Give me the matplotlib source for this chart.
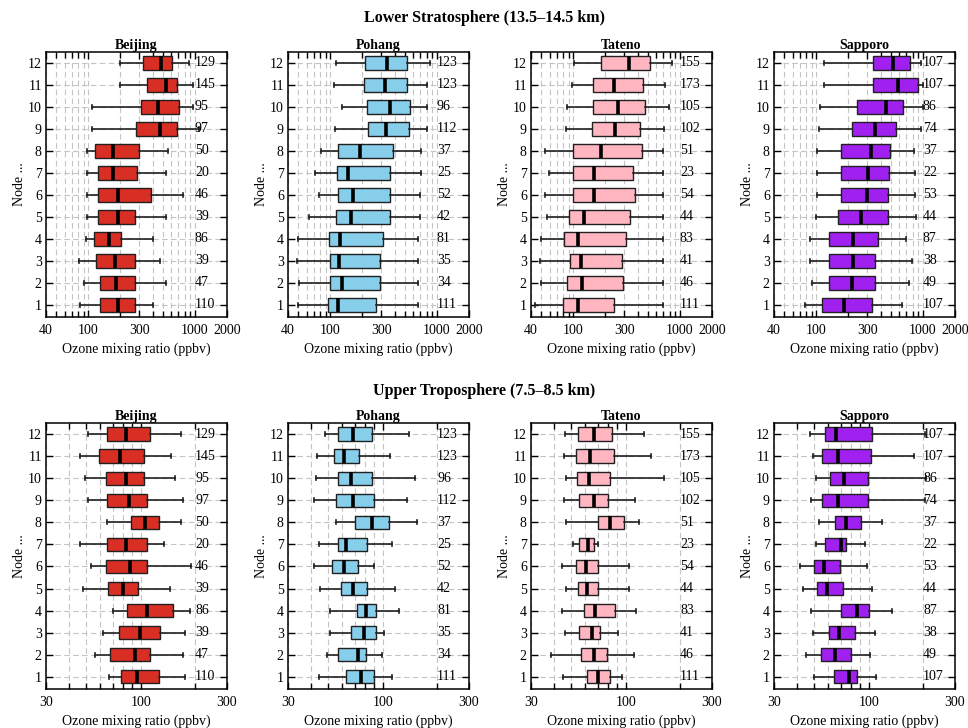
import matplotlib
matplotlib.use("Agg")
import matplotlib.pyplot as plt
from matplotlib.ticker import NullFormatter

plt.rcParams["font.family"] = ["Liberation Serif", "DejaVu Serif"]

stations = ["Beijing", "Pohang", "Tateno", "Sapporo"]
colors = ["#D92E24", "#87CEEB", "#FFB6C1", "#A020F0"]
nodes = list(range(1, 13))

# Number of profiles assigned to each node (node 1 .. 12)
counts_beijing = [110, 47, 39, 86, 39, 46, 20, 50, 97, 95, 145, 129]
counts_pohang = [111, 34, 35, 81, 42, 52, 25, 37, 112, 96, 123, 123]
counts_tateno = [111, 46, 41, 83, 44, 54, 23, 51, 102, 105, 173, 155]
counts_sapporo = [107, 49, 38, 87, 44, 53, 22, 37, 74, 86, 107, 107]

# Lower stratosphere (13.5-14.5 km): whisker low, Q1, median, Q3, whisker high per node
ls_beijing = {
    "lo":  [83, 90, 81, 94, 98, 98, 98, 98, 107, 107, 200, 198],
    "q1":  [128, 128, 118, 114, 122, 122, 122, 116, 280, 310, 355, 328],
    "med": [190, 183, 177, 155, 190, 190, 171, 171, 465, 450, 530, 481],
    "q3":  [272, 272, 272, 202, 274, 390, 286, 300, 674, 710, 674, 605],
    "hi":  [407, 530, 470, 400, 530, 780, 530, 560, 1100, 950, 966, 881],
}
ls_pohang = {
    "lo":  [50, 51, 49, 50, 63, 78, 71, 81, 111, 128, 108, 114],
    "q1":  [94, 100, 100, 96, 112, 118, 116, 118, 225, 219, 207, 210],
    "med": [117, 128, 120, 122, 157, 163, 146, 191, 333, 363, 328, 343],
    "q3":  [268, 290, 290, 314, 365, 365, 365, 387, 547, 564, 520, 527],
    "hi":  [665, 665, 665, 665, 690, 695, 705, 705, 807, 807, 813, 855],
}
ls_tateno = {
    "lo":  [44, 50, 49, 50, 56, 54, 59, 54, 85, 88, 96, 101],
    "q1":  [80, 88, 93, 81, 91, 100, 100, 100, 149, 154, 152, 180],
    "med": [110, 120, 118, 110, 127, 156, 156, 182, 246, 260, 240, 330],
    "q3":  [242, 290, 286, 310, 343, 382, 365, 441, 422, 474, 454, 524],
    "hi":  [690, 690, 690, 690, 690, 690, 690, 700, 714, 796, 725, 843],
}
ls_sapporo = {
    "lo":  [79, 90, 88, 88, 100, 101, 101, 101, 105, 108, 118, 118],
    "q1":  [114, 132, 132, 132, 160, 169, 169, 169, 214, 239, 338, 338],
    "med": [182, 218, 221, 221, 262, 297, 305, 328, 352, 454, 587, 520],
    "q3":  [330, 355, 355, 382, 474, 467, 477, 494, 555, 655, 899, 762],
    "hi":  [637, 746, 785, 694, 862, 843, 843, 826, 960, 1010, 1000, 950],
}

# Upper troposphere (7.5-8.5 km)
ut_beijing = {
    "lo":  [67, 56, 62, 70.5, 48, 53, 46.5, 65, 51, 49.5, 46.5, 51.5],
    "q1":  [78, 68, 76, 84, 66, 64, 65, 88, 65, 64, 59, 65.5],
    "med": [96, 93, 99, 108, 80, 87, 82.5, 106, 86, 83, 77, 82.5],
    "q3":  [126, 113, 128, 150, 97, 109, 109, 127, 108, 105, 104, 112],
    "hi":  [175, 172, 175, 187, 146, 189, 135, 168, 172, 155, 147, 168],
}
ut_pohang = {
    "lo":  [44.5, 49.5, 51.5, 51, 45, 41.5, 44.5, 55.5, 42, 43, 43.5, 48],
    "q1":  [63, 57, 66.5, 72, 59, 52.5, 57, 70.5, 55, 56.5, 54, 57],
    "med": [76, 73, 79, 81, 69, 61.5, 63, 87, 69, 67, 61.5, 68.5],
    "q3":  [90, 81, 92, 92, 82, 73, 82, 108, 90, 87, 74, 87],
    "hi":  [113, 99, 102, 123, 117, 90, 113, 155, 136, 151, 110, 139],
}
ut_tateno = {
    "lo":  [45, 38.5, 46.5, 44.5, 47, 44.5, 51, 47, 45.5, 47, 45.5, 46],
    "q1":  [61.5, 57, 55, 59, 54.5, 53.5, 55.5, 70.5, 55.5, 54, 53.5, 54.5],
    "med": [70, 67, 65, 68, 61, 60.5, 62, 82, 67, 63, 63.5, 67],
    "q3":  [82, 79, 72, 87, 70.5, 70.5, 66.5, 97.5, 80, 82, 86, 84],
    "hi":  [96, 111, 91, 114, 105, 105, 70.5, 118, 112, 163, 138, 127],
}
ut_sapporo = {
    "lo":  [50, 45, 49.5, 48, 43.5, 41.5, 51, 53, 48, 51, 49.5, 47.5],
    "q1":  [64.5, 54.5, 60.5, 70.5, 52, 50, 57.5, 65, 55.5, 61, 55.5, 57.5],
    "med": [77.5, 65, 69, 86, 59, 56.5, 70, 75, 67.5, 73, 68, 66],
    "q3":  [86, 80, 84, 101, 72.5, 69.5, 75, 91, 99, 99, 103, 105],
    "hi":  [110, 102, 108, 134, 104, 98, 96, 119, 205, 207, 178, 205],
}

ls_data = [ls_beijing, ls_pohang, ls_tateno, ls_sapporo]
ut_data = [ut_beijing, ut_pohang, ut_tateno, ut_sapporo]
all_counts = [counts_beijing, counts_pohang, counts_tateno, counts_sapporo]

ls_xlim = (40, 2000)
ls_major = [40, 100, 300, 1000, 2000]
ls_minor = [50, 60, 70, 80, 90, 200, 400, 500, 600, 700, 800, 900]
ls_count_x = 1000

ut_xlim = (30, 300)
ut_major = [30, 100, 300]
ut_minor = [40, 50, 60, 70, 80, 90, 200]
ut_count_x = 200

W, H = 968, 728
fig = plt.figure(figsize=(W / 100, H / 100), dpi=100)

lefts_px = [46, 288, 531, 774]
ax_w_px = 181
rows = [
    dict(top=52, bottom=317, data=ls_data, xlim=ls_xlim, major=ls_major,
         minor=ls_minor, cx=ls_count_x, title="Lower Stratosphere (13.5–14.5 km)", ty=18),
    dict(top=423, bottom=689, data=ut_data, xlim=ut_xlim, major=ut_major,
         minor=ut_minor, cx=ut_count_x, title="Upper Troposphere (7.5–8.5 km)", ty=391),
]

grid_kw = dict(color="#c4c4c4", linestyle=(0, (5, 3)), linewidth=0.8)

for row in rows:
    fig.text(0.5, 1 - row["ty"] / H, row["title"], ha="center", va="center",
             fontsize=11.5, fontweight="bold")
    for i, st in enumerate(stations):
        d = row["data"][i]
        ax = fig.add_axes([lefts_px[i] / W, 1 - row["bottom"] / H,
                           ax_w_px / W, (row["bottom"] - row["top"]) / H])
        stats = []
        for k in range(len(nodes)):
            stats.append(dict(whislo=d["lo"][k], q1=d["q1"][k], med=d["med"][k],
                              q3=d["q3"][k], whishi=d["hi"][k], fliers=[]))
        ax.bxp(stats, positions=nodes, widths=0.6, orientation="horizontal",
               patch_artist=True, showfliers=False, capwidths=0.18,
               boxprops=dict(facecolor=colors[i], edgecolor="#202020", linewidth=1.0),
               medianprops=dict(color="black", linewidth=2.6),
               whiskerprops=dict(color="#202020", linewidth=1.2),
               capprops=dict(color="#202020", linewidth=1.2))
        ax.set_xscale("log")
        ax.set_xlim(*row["xlim"])
        ax.set_ylim(0.45, 12.5)
        ax.set_xticks(row["major"], [str(v) for v in row["major"]])
        ax.set_xticks(row["minor"], minor=True)
        ax.xaxis.set_minor_formatter(NullFormatter())
        ax.set_yticks(nodes, [str(n) for n in nodes])
        ax.set_axisbelow(True)
        ax.grid(True, axis="x", which="both", **grid_kw)
        ax.grid(True, axis="y", which="major", **grid_kw)
        ax.tick_params(which="both", direction="in", top=True, right=True,
                       labelsize=10, width=1.0)
        ax.tick_params(which="major", length=5)
        ax.tick_params(which="minor", length=4)
        ax.tick_params(axis="x", pad=5)
        ax.tick_params(axis="y", pad=3)
        for s in ax.spines.values():
            s.set_linewidth(1.1)
        for n, c in zip(nodes, all_counts[i]):
            ax.text(row["cx"], n, str(c), ha="left", va="center", fontsize=10)
        ax.set_title(st, fontsize=10, fontweight="bold", pad=2)
        ax.set_xlabel("Ozone mixing ratio (ppbv)", fontsize=10, labelpad=4)
        ax.set_ylabel("Node ...", fontsize=10, labelpad=1.5)

fig.savefig("out.png", dpi=100)
